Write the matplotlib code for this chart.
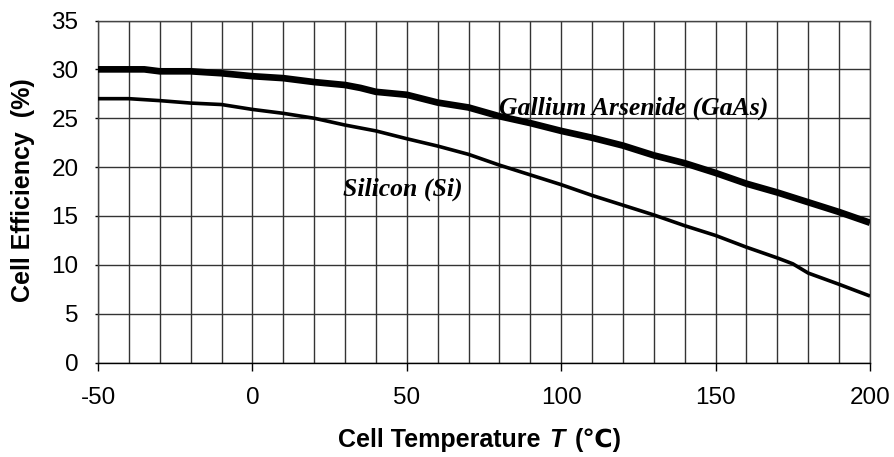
"""Solar cell efficiency vs cell temperature, GaAs vs Si"""

import matplotlib
matplotlib.use('Agg')
import matplotlib.pyplot as plt

# cell temperature (deg C) and efficiency (%)
temp_gaas = [-50, -40, -35, -30, -20, -10, 0, 10, 20, 30, 35, 40, 50, 60, 70,
             80, 90, 100, 110, 120, 130, 140, 150, 160, 170, 180, 190, 200]
eff_gaas = [30.0, 30.0, 30.0, 29.8, 29.8, 29.6, 29.3, 29.1, 28.7, 28.4, 28.1,
            27.7, 27.4, 26.6, 26.1, 25.2, 24.5, 23.7, 23.0, 22.2, 21.2, 20.4,
            19.4, 18.3, 17.4, 16.4, 15.4, 14.3]

temp_si = [-50, -40, -30, -20, -10, 0, 10, 20, 30, 40, 50, 60, 70, 80, 90,
           100, 110, 120, 130, 140, 150, 160, 170, 175, 180, 190, 200]
eff_si = [27.0, 27.0, 26.8, 26.55, 26.4, 25.9, 25.5, 25.0, 24.3, 23.7, 22.9,
          22.15, 21.3, 20.2, 19.2, 18.2, 17.1, 16.1, 15.1, 14.0, 13.0, 11.8,
          10.7, 10.1, 9.15, 8.0, 6.8]

x_ticks = [-50, 0, 50, 100, 150, 200]
y_ticks = [0, 5, 10, 15, 20, 25, 30, 35]


def main():
    plt.rcParams['axes.unicode_minus'] = False
    fig = plt.figure(figsize=(8.94, 4.57), dpi=100)
    ax = fig.add_axes([98 / 894, 1 - 362.5 / 457, 772 / 894, 342 / 457])

    sans = ['Liberation Sans', 'DejaVu Sans']
    serif = 'Liberation Serif'

    # grid: every 10 degC vertically, every 5 % horizontally
    for xv in range(-50, 201, 10):
        ax.axvline(xv, color='#333333', lw=1.0, zorder=1)
    for yv in y_ticks:
        ax.axhline(yv, color='#333333', lw=1.0, zorder=1)

    ax.plot(temp_gaas, eff_gaas, color='black', lw=4.8, zorder=3,
            solid_capstyle='butt')
    ax.plot(temp_si, eff_si, color='black', lw=2.6, zorder=3,
            solid_capstyle='butt')

    ax.set_xlim(-50, 200)
    ax.set_ylim(0, 35)
    ax.set_xticks(x_ticks)
    ax.set_yticks(y_ticks)
    ax.tick_params(axis='x', direction='out', length=6, width=1,
                   pad=12, labelsize=17.5)
    ax.tick_params(axis='y', direction='out', length=2, width=1,
                   pad=12, labelsize=17.5)
    for lbl in ax.get_xticklabels() + ax.get_yticklabels():
        lbl.set_family(sans)
    for sp in ax.spines.values():
        sp.set_linewidth(1.0)
        sp.set_color('#444444')
    ax.spines['bottom'].set_color('black')

    # y axis label
    fig.text(23 / 894, 1 - 190 / 457, 'Cell Efficiency  (%)', rotation=90,
             ha='center', va='center', fontsize=18, fontweight='bold',
             family=sans)

    # x axis label, built from pieces so T can be italic
    y_lab = 1 - 440 / 457
    t1 = fig.text(338 / 894, y_lab, 'Cell Temperature', ha='left',
                  va='center', fontsize=18, fontweight='bold', family=sans)
    t2 = fig.text(0, 0, 'T', fontsize=18, fontweight='bold', style='italic',
                  family=sans, ha='left', va='center')
    t3 = fig.text(0, 0, '(℃)', fontsize=18, fontweight='bold', family=sans,
                  ha='left', va='center')
    fig.canvas.draw()
    r = fig.canvas.get_renderer()
    inv = fig.transFigure.inverted()
    bb1 = t1.get_window_extent(r)
    t2.set_position((inv.transform((bb1.x1 + 9, 0))[0], y_lab))
    bb2 = t2.get_window_extent(r)
    t3.set_position((inv.transform((bb2.x1 + 10, 0))[0], y_lab))

    # curve labels
    fig.text(634 / 894, 1 - 108 / 457, 'Gallium Arsenide (GaAs)',
             ha='center', va='center', fontsize=18.5, fontweight='bold',
             style='italic', family=serif, zorder=5)
    fig.text(403 / 894, 1 - 189 / 457, 'Silicon (Si)', ha='center',
             va='center', fontsize=18.5, fontweight='bold', style='italic',
             family=serif, zorder=5)

    fig.savefig('out.png', dpi=100)


if __name__ == '__main__':
    main()
